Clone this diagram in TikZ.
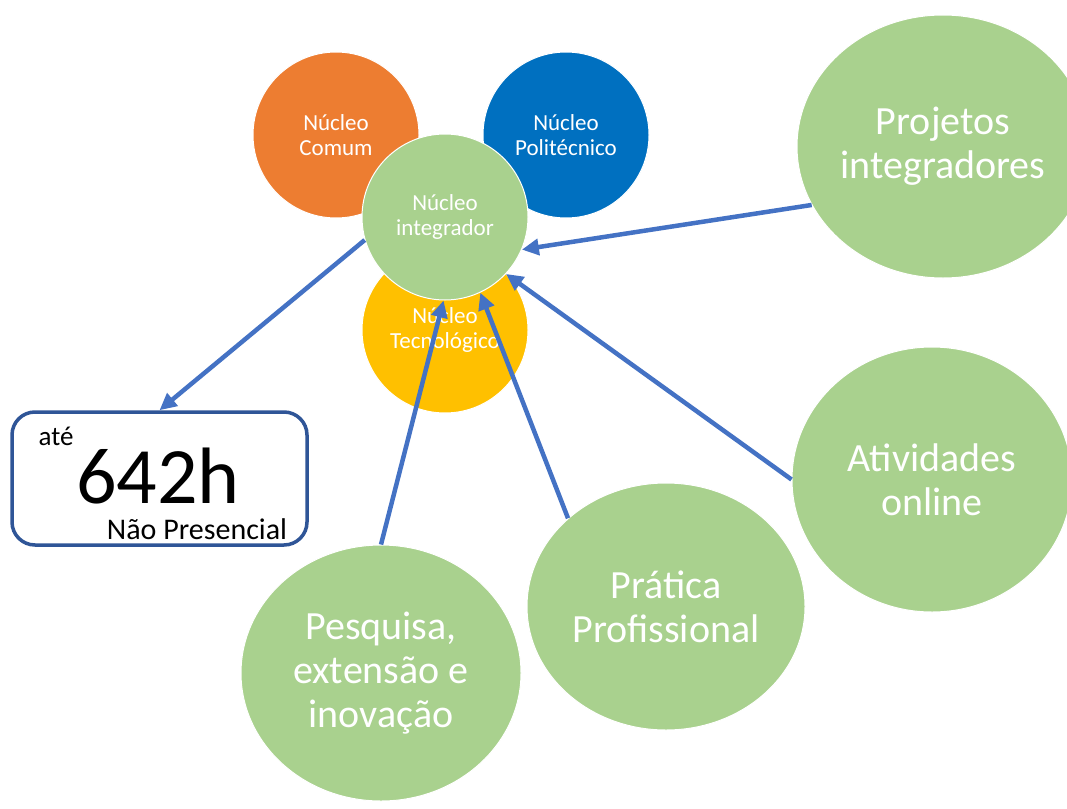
\documentclass[tikz,border=0pt]{standalone}
\usepackage{fontspec}
\setmainfont{Carlito}
\usetikzlibrary{shapes.geometric,arrows.meta}
\definecolor{laranja}{HTML}{ED7D31}
\definecolor{azul}{HTML}{0070C0}
\definecolor{amarelo}{HTML}{FFC000}
\definecolor{verde}{HTML}{A9D18E}
\definecolor{azulseta}{HTML}{4472C4}
\definecolor{azulborda}{HTML}{2F5597}
\begin{document}
\begin{tikzpicture}[x=1pt,y=-1pt,
    nucleo/.style = {circle, draw=white, line width=1pt, minimum size=166pt, inner sep=0pt,
                     text=white, align=center, font=\fontsize{23}{25.5}\selectfont},
    eixo/.style = {ellipse, fill=verde, draw=white, line width=1pt, inner sep=0pt,
                   text=white, align=center, font=\fontsize{40}{44}\selectfont},
    rotulo/.style = {inner sep=0pt, text depth=0pt},
    seta/.style = {draw=azulseta, line width=4.5pt, -{Triangle[length=17pt,width=16pt]}}]
  \useasboundingbox (0,0) rectangle (1067,808);
  % nucleos
  \node[nucleo, fill=laranja] (comum) at (336,135) {Núcleo\\Comum};
  \node[nucleo, fill=azul] (poli) at (566,135) {Núcleo\\Politécnico};
  \node[nucleo, fill=amarelo] (tecno) at (445,330) {Núcleo\\Tecnológico};
  \node[nucleo, fill=verde] (integ) at (445,217) {Núcleo\\integrador};
  % eixos
  \node[eixo, minimum width=292pt, minimum height=263pt] (proj) at (943,146.5) {Projetos\\integradores};
  \node[eixo, minimum width=280pt, minimum height=265pt] (ativ) at (932,479.5) {Atividades\\online};
  \node[eixo, minimum width=278pt, minimum height=247pt] (prat) at (666,606.5) {Prática\\Profissional};
  \node[eixo, minimum width=280pt, minimum height=256pt] (pesq) at (381,673) {Pesquisa,\\extensão e\\inovação};
  % carga horaria
  \node[draw=azulborda, line width=3.5pt, rounded corners=23pt, fill=white,
        minimum width=295pt, minimum height=133pt] (horas) at (159.5,478.5) {};
  \node[rotulo, font=\fontsize{27}{30}\selectfont] (ate) at (56,436) {até};
  \node[rotulo, font=\fontsize{80}{88}\selectfont] (total) at (158,476) {642h};
  \node[rotulo, font=\fontsize{30}{34}\selectfont] (naopres) at (197,529) {Não Presencial};
  % setas
  \draw[seta] (integ.196) -- (horas.north);
  \draw[seta] (proj.204) -- (integ.-23);
  \draw[seta] (ativ.180) -- (integ.-43);
  \draw[seta] (prat.138) -- (integ.-65);
  \draw[seta] (pesq.90) -- (integ.-91);
\end{tikzpicture}
\end{document}
